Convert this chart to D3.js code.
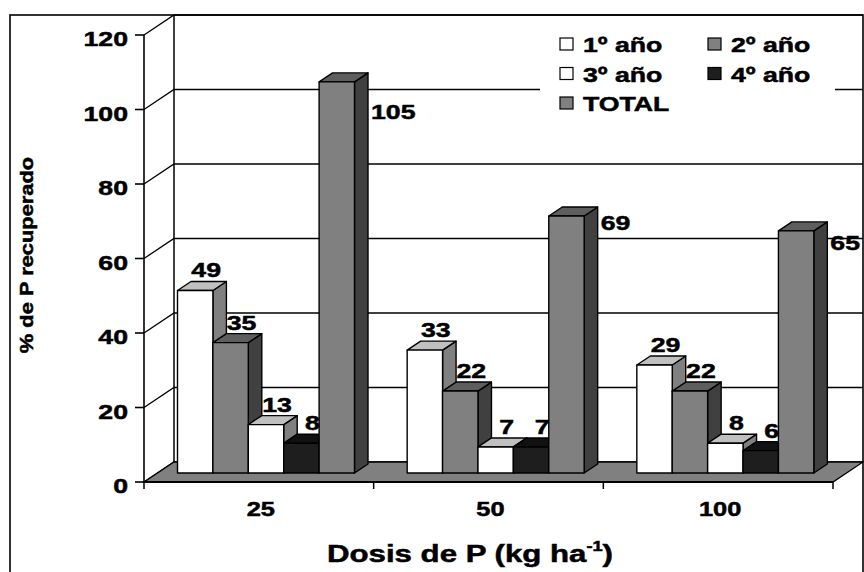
<!DOCTYPE html>
<html>
<head>
<meta charset="utf-8">
<script src="https://cdn.jsdelivr.net/npm/d3@7"></script>
<style>
  body { margin: 0; background: #fff; }
  text { font-family: "Liberation Sans", Arial, sans-serif; font-weight: bold; fill: #000;
         stroke: #000; stroke-width: 0.5px; }
</style>
</head>
<body>
<svg width="864" height="572"></svg>
<script>
// data
var categories = ["25", "50", "100"]
var series = ["1º año", "2º año", "3º año", "4º año", "TOTAL"]
var year1 = [49, 33, 29]
var year2 = [35, 22, 22]
var year3 = [13, 7, 8]
var year4 = [8, 7, 6]
var total = [105, 69, 65]
var yTicks = [0, 20, 40, 60, 80, 100, 120]
var values = [year1, year2, year3, year4, total]

// colours: front, top, side
var faces = [
  ["#ffffff", "#c0c0c0", "#808080"],
  ["#808080", "#5e5e5e", "#404040"],
  ["#ffffff", "#c0c0c0", "#808080"],
  ["#1e1e1e", "#111111", "#111111"],
  ["#808080", "#5e5e5e", "#404040"]
]
var legendCols = [[0, 0], [1, 0], [0, 1], [1, 1], [0, 2]] // col,row
var totalLabelDy = [37, 14, 19] // the TOTAL labels sit beside the bar, a bit down

var SX = 1.27 // text in the picture is drawn wide
var svg = d3.select("svg")

var yScale = d3.scaleLinear().domain([0, 120]).range([482, 35])
var xScale = d3.scaleBand().domain(categories).range([144, 833])
var xSub = d3.scaleBand().domain(series).range([20, 197])
var depth = {dx: 30, dy: -20}
var zF = 0.45, zB = 0.9

// project a point (front x, value, depth 0..1)
var P = function(x, v, z) { return [x + depth.dx * z, yScale(v) + depth.dy * z] }
var poly = function(pts) { return pts.map(function(p) { return p.join(",") }).join(" ") }

var x0 = xScale.range()[0], x1 = xScale.range()[1]

// walls
svg.append("polygon")
  .attr("points", poly([P(x0, 0, 1), P(x1, 0, 1), P(x1, 120, 1), P(x0, 120, 1)]))
  .attr("fill", "#fff")

// gridlines on side + back wall
svg.selectAll(".grid")
  .data(yTicks)
  .enter()
  .append("polyline")
  .attr("class", "grid")
  .attr("points", function(v) { return poly([P(x0, v, 0), P(x0, v, 1), P(x1, v, 1)]) })
  .attr("fill", "none")
  .attr("stroke", "#000")
  .attr("stroke-width", 1.3)

svg.append("line")
  .attr("x1", P(x0, 0, 1)[0]).attr("y1", P(x0, 0, 1)[1])
  .attr("x2", P(x0, 120, 1)[0]).attr("y2", P(x0, 120, 1)[1])
  .attr("stroke", "#000").attr("stroke-width", 1.5)

// legend box hides the gridlines behind it
svg.append("rect")
  .attr("x", 540).attr("y", 22).attr("width", 295).attr("height", 98)
  .attr("fill", "#fff")

// floor
svg.append("polygon")
  .attr("points", poly([P(x0, 0, 0), P(x1, 0, 0), P(x1, 0, 1), P(x0, 0, 1)]))
  .attr("fill", "#808080")
  .attr("stroke", "#000")
  .attr("stroke-width", 1.3)
svg.append("line")
  .attr("x1", x0).attr("y1", yScale(0)).attr("x2", x1).attr("y2", yScale(0))
  .attr("stroke", "#000").attr("stroke-width", 2.2)

// y axis
svg.append("line")
  .attr("x1", x0).attr("y1", yScale(0)).attr("x2", x0).attr("y2", yScale(120))
  .attr("stroke", "#000").attr("stroke-width", 1.6)
svg.selectAll(".ytick")
  .data(yTicks)
  .enter()
  .append("line")
  .attr("x1", x0 - 9).attr("x2", x0)
  .attr("y1", function(v) { return yScale(v) })
  .attr("y2", function(v) { return yScale(v) })
  .attr("stroke", "#000").attr("stroke-width", 1.6)
svg.selectAll(".ylab")
  .data(yTicks)
  .enter()
  .append("text")
  .attr("text-anchor", "end")
  .attr("font-size", 21)
  .attr("transform", function(v) { return "translate(128," + (yScale(v) + 11) + ") scale(" + SX + ",1)" })
  .text(function(v) { return v })

// x ticks and labels
var xTickPos = categories.map(function(c) { return xScale(c) }).concat([x1])
svg.selectAll(".xtick")
  .data(xTickPos)
  .enter()
  .append("line")
  .attr("x1", function(d) { return d }).attr("x2", function(d) { return d })
  .attr("y1", yScale(0)).attr("y2", yScale(0) + 7)
  .attr("stroke", "#000").attr("stroke-width", 1.5)
svg.selectAll(".xlab")
  .data(categories)
  .enter()
  .append("text")
  .attr("text-anchor", "middle")
  .attr("font-size", 20)
  .attr("transform", function(c) { return "translate(" + (xScale(c) + xScale.bandwidth() / 2 + 2) + ",516) scale(" + SX + ",1)" })
  .text(function(c) { return c })

// bars, drawn left to right so each covers its neighbour's side
var bw = xSub.bandwidth()
categories.forEach(function(c, i) {
  series.forEach(function(s, j) {
    var v = values[j][i]
    var xl = xScale(c) + xSub(s), xr = xl + bw
    var g = svg.append("g").attr("stroke", "#000").attr("stroke-width", 1.4).attr("stroke-linejoin", "round")
    g.append("polygon")
      .attr("points", poly([P(xr, 0, zF), P(xr, 0, zB), P(xr, v, zB), P(xr, v, zF)]))
      .attr("fill", faces[j][2])
    g.append("polygon")
      .attr("points", poly([P(xl, v, zF), P(xr, v, zF), P(xr, v, zB), P(xl, v, zB)]))
      .attr("fill", faces[j][1])
    g.append("polygon")
      .attr("points", poly([P(xl, v, zF), P(xr, v, zF), P(xr, 0, zF), P(xl, 0, zF)]))
      .attr("fill", faces[j][0])
  })
})

// value labels
categories.forEach(function(c, i) {
  series.forEach(function(s, j) {
    var v = values[j][i]
    var xl = xScale(c) + xSub(s), xr = xl + bw
    var lx, ly, anchor
    if (s == "TOTAL") {
      lx = P(xr, v, zB)[0] + 3
      ly = P(xr, v, zF)[1] + totalLabelDy[i]
      anchor = "start"
    } else {
      lx = P((xl + xr) / 2, v, zF)[0] + 11
      ly = P(xl, v, zB)[1] - 4
      anchor = "middle"
    }
    svg.append("text")
      .attr("text-anchor", anchor)
      .attr("font-size", 21)
      .attr("transform", "translate(" + lx + "," + ly + ") scale(" + SX + ",1)")
      .text(v)
  })
})

// legend
var legend = svg.selectAll(".legend")
  .data(series)
  .enter()
  .append("g")
  .attr("transform", function(s, j) {
    return "translate(" + (560 + legendCols[j][0] * 148) + "," + (38 + legendCols[j][1] * 29.5) + ")"
  })
legend.append("rect")
  .attr("width", 13).attr("height", 12)
  .attr("fill", function(s, j) { return faces[j][0] })
  .attr("stroke", "#000").attr("stroke-width", 1.2)
legend.append("text")
  .attr("font-size", 21)
  .attr("transform", "translate(23,14) scale(" + SX + ",1)")
  .text(function(s) { return s })

// axis titles
var xt = svg.append("text")
  .attr("text-anchor", "middle")
  .attr("font-size", 24)
  .attr("transform", "translate(470,562) scale(1.3,1)")
xt.append("tspan").text("Dosis de P (kg ha")
xt.append("tspan").attr("font-size", 14).attr("dy", -11).text("-1")
xt.append("tspan").attr("dy", 11).text(")")

svg.append("text")
  .attr("text-anchor", "middle")
  .attr("font-size", 19)
  .attr("transform", "translate(33,255) rotate(-90) scale(1.15,1)")
  .text("% de P recuperado")

// chart frame
svg.append("rect")
  .attr("x", 10).attr("y", 15).attr("width", 853).attr("height", 600)
  .attr("fill", "none").attr("stroke", "#000").attr("stroke-width", 1.6)
</script>
</body>
</html>
